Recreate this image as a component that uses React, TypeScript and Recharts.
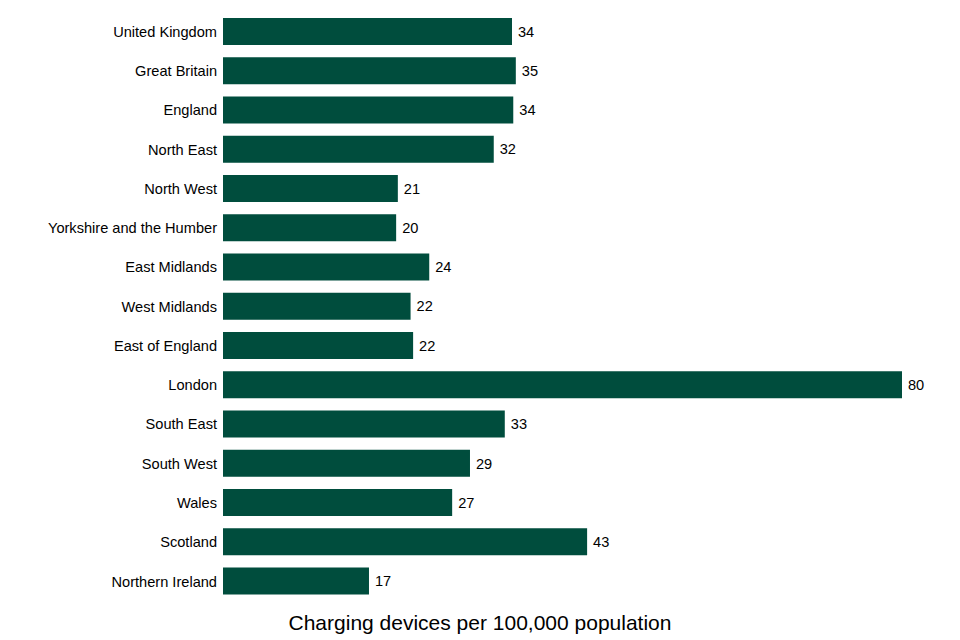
import { BarChart, Bar, XAxis, YAxis, LabelList } from "recharts";

const regions = [
  "United Kingdom",
  "Great Britain",
  "England",
  "North East",
  "North West",
  "Yorkshire and the Humber",
  "East Midlands",
  "West Midlands",
  "East of England",
  "London",
  "South East",
  "South West",
  "Wales",
  "Scotland",
  "Northern Ireland",
];

// devices per 100,000 people
const devicesPer100k = [
  34.05, 34.5, 34.2, 31.9, 20.6, 20.4, 24.3, 22.1, 22.4, 80.0, 33.2, 29.1, 27.0, 42.9, 17.2,
];

const data = regions.map((region, i) => ({ region, value: devicesPer100k[i] }));

const FONT = "'Liberation Sans', Arial, sans-serif";

export default function App() {
  return (
    <div style={{ position: "absolute", left: 0, top: 0, width: 960, height: 640, fontFamily: FONT }}>
      <BarChart
        width={960}
        height={640}
        data={data}
        layout="vertical"
        margin={{ top: 12, right: 58, left: 0, bottom: 39 }}
        barCategoryGap="15%"
      >
        <XAxis type="number" domain={[0, 80]} hide />
        <YAxis
          type="category"
          dataKey="region"
          width={223}
          axisLine={false}
          tickLine={false}
          tickSize={0}
          tickMargin={6}
          interval={0}
          tick={{ fontSize: 14.6, fill: "#000", fontFamily: FONT }}
        />
        <Bar dataKey="value" fill="#004d3d" isAnimationActive={false}>
          <LabelList
            dataKey="value"
            position="right"
            offset={6}
            formatter={(v: number) => Math.round(v)}
            style={{ fontSize: 14.6, fill: "#000", fontFamily: FONT }}
          />
        </Bar>
      </BarChart>
      <div
        style={{
          position: "absolute",
          left: 0,
          width: 960,
          top: 611,
          textAlign: "center",
          fontSize: 21,
          color: "#000",
        }}
      >
        Charging devices per 100,000 population
      </div>
    </div>
  );
}
